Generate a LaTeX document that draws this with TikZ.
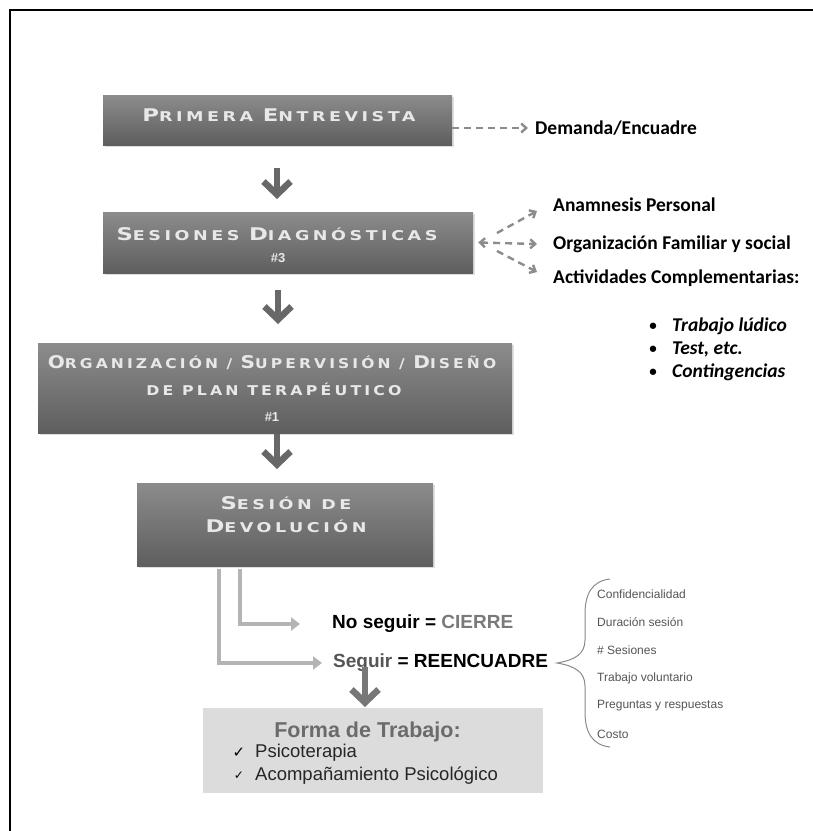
\documentclass[tikz,border=0pt]{standalone}
\usepackage{fontspec}
\usetikzlibrary{arrows.meta,shadows}
\setmainfont{Liberation Sans}
\newfontfamily\dvfont{DejaVu Sans}
\newfontfamily\copfont{DejaVu Sans Bold}[LetterSpace=20]
\newfontfamily\calfont{Carlito}
\definecolor{boxtop}{HTML}{8C8C8C}
\definecolor{boxbot}{HTML}{5E5E5E}
\definecolor{boxtxt}{HTML}{E8E8E8}
\definecolor{arrgray}{HTML}{686868}
\definecolor{dashgray}{HTML}{8C8C8C}
\definecolor{elbgray}{HTML}{B4B4B4}
\definecolor{cierregray}{HTML}{7A7A7A}
\definecolor{formagray}{HTML}{6B6B6B}
\definecolor{bracegray}{HTML}{8A8A8A}
\definecolor{itemgray}{HTML}{555555}
\newcommand\BigC[1]{{\fontsize{17.5}{17.5}\selectfont #1}}
\newcommand\copt{\copfont\fontsize{13.5}{13.5}\selectfont\color{boxtxt}}
\newcommand\widetxt[2][1.3]{\scalebox{#1}[1]{#2}}
\begin{document}
\begin{tikzpicture}[x=1pt,y=-1pt,
  stepbox/.style={draw=none,rectangle,top color=boxtop,bottom color=boxbot,
    drop shadow={opacity=0.25,shadow xshift=2pt,shadow yshift=-2pt}},
  boxtext/.style={inner sep=0pt,font=\copt},
  numtext/.style={inner sep=0pt,font=\bfseries\fontsize{13}{13}\selectfont,text=boxtxt},
  bigarr/.style={draw=arrgray,line width=6.5pt,-{Straight Barb[length=13pt,width=27pt]}},
  dasharr/.style={draw=dashgray,line width=2.4pt,dash pattern=on 7pt off 5pt,
    -{Straight Barb[length=5pt,width=9pt]}},
  elbarr/.style={draw=elbgray,line width=4.5pt,-{Triangle[length=9pt,width=13pt]}},
  caltext/.style={inner sep=0pt,anchor=west,font=\calfont\bfseries\fontsize{19.5}{19.5}\selectfont},
  calitem/.style={inner sep=0pt,anchor=west,font=\calfont\bfseries\itshape\fontsize{19.5}{19.5}\selectfont},
  ariatext/.style={inner sep=0pt,anchor=west,font=\bfseries\fontsize{19}{19}\selectfont},
  itemtext/.style={inner sep=0pt,anchor=west,text=itemgray,font=\fontsize{12}{12}\selectfont},
]
\useasboundingbox (0,0) rectangle (813,831);
\fill[white] (0,0) rectangle (813,831);
% frame
\draw[black,line width=2pt] (10,831) -- (10,10) -- (813,10);

% boxes
\node[stepbox,minimum width=349pt,minimum height=50pt] (prim) at (277.5,120) {};
\node[boxtext] (primt) at (279,115) {\widetxt{\BigC{P}RIMERA \BigC{E}NTREVISTA}};

\node[stepbox,minimum width=370pt,minimum height=61pt] (ses) at (288,242.5) {};
\node[boxtext] (sest) at (277,234) {\widetxt{\BigC{S}ESIONES \BigC{D}IAGNÓSTICAS}};
\node[numtext] (sesn) at (278,258) {\#3};

\node[stepbox,minimum width=474pt,minimum height=90pt] (org) at (275,388) {};
\node[boxtext] (orgt1) at (272,363) {\widetxt[1.15]{\BigC{O}RGANIZACIÓN / \BigC{S}UPERVISIÓN / \BigC{D}ISEÑO}};
\node[boxtext] (orgt2) at (274,389) {\widetxt[1.17]{DE PLAN TERAPÉUTICO}};
\node[numtext] (orgn) at (272,417) {\#1};

\node[stepbox,minimum width=296pt,minimum height=83pt] (dev) at (285,524.5) {};
\node[boxtext] (devt1) at (286,503) {\widetxt{\BigC{S}ESIÓN DE}};
\node[boxtext] (devt2) at (286,526) {\widetxt{\BigC{D}EVOLUCIÓN}};

% big arrows
\coordinate (a1s) at (277,168); \coordinate (a1e) at (277,199);
\coordinate (a2s) at (278,290); \coordinate (a2e) at (278,324);
\coordinate (a3s) at (277,434); \coordinate (a3e) at (277,469);
\draw[bigarr] (a1s) -- (a1e);
\draw[bigarr] (a2s) -- (a2e);
\draw[bigarr] (a3s) -- (a3e);

% demanda
\node[caltext] (dem) at (535,128) {Demanda/Encuadre};
\draw[dasharr] (prim.east |- dem.west) -- ([xshift=-7pt]dem.west);

% sesiones side
\node[caltext] (anam) at (553,205) {Anamnesis Personal};
\node[caltext] (orgf) at (553,244) {Organización Familiar y social};
\node[caltext] (activ) at (553,278) {Actividades Complementarias:};
\coordinate (dl) at ([xshift=5pt]ses.east);
\coordinate (dc1) at (497,233);
\coordinate (dc2) at (497,251);
\draw[dasharr,{Straight Barb[length=5pt,width=9pt]}-{Straight Barb[length=5pt,width=9pt]}] (dl) -- ([xshift=-16pt]orgf.west);
\draw[dasharr] (dc1) -- ([xshift=-16pt,yshift=-6pt]anam.west);
\draw[dasharr] (dc2) -- ([xshift=-16pt,yshift=6pt]activ.west);

\node[calitem] (it1) at (672,326) {Trabajo lúdico};
\node[calitem] (it2) at (672,349) {Test, etc.};
\node[calitem] (it3) at (672,372) {Contingencias};
\foreach \n in {it1,it2,it3}
  \node[inner sep=0pt,font=\calfont\bfseries\fontsize{15}{15}\selectfont] at ([xshift=-19pt,yshift=-1pt]\n.west) {•};

% cierre / reencuadre
\node[ariatext] (cierre) at (332,624) {No seguir = \textcolor{cierregray}{CIERRE}};
\node[ariatext] (reenc) at (333,663) {\textcolor{itemgray}{Seguir} = REENCUADRE};
\coordinate (e1) at (240,569);
\coordinate (e2) at (219,569);
\draw[elbarr] (e1) |- ([xshift=-32pt]cierre.west);
\draw[elbarr] (e2) |- ([xshift=-11pt]reenc.west);

% forma de trabajo box
\node[draw=none,rectangle,fill={rgb,255:red,220;green,220;blue,220},minimum width=340pt,minimum height=85pt] (forma) at (373,750.5) {};
\node[inner sep=0pt,text=formagray,font=\bfseries\fontsize{21.5}{21.5}\selectfont] (format) at (367.5,732) {Forma de Trabajo:};
\node[itemtext,text=black!85,font=\fontsize{18.5}{18.5}\selectfont] (ps) at (255,753) {Psicoterapia};
\node[itemtext,text=black!85,font=\fontsize{18.5}{18.5}\selectfont] (ac) at (255,776) {Acompañamiento Psicológico};
\node[inner sep=0pt,font=\dvfont\fontsize{15}{15}\selectfont] at ([xshift=-16pt]ps.west) {✓};
\node[inner sep=0pt,font=\dvfont\fontsize{12}{12}\selectfont] at ([xshift=-16pt]ac.west) {✓};

\coordinate (a4s) at (365,667); \coordinate (a4e) at (365,707);
\draw[bigarr,draw=arrgray!90] (a4s) -- (a4e);

% brace
\draw[bracegray,line width=1pt] (610,579) .. controls (592,581) and (585,594) .. (585,614) -- (585,640)
  .. controls (585,654) and (575,660) .. (557,663) .. controls (575,666) and (585,672) .. (585,686)
  -- (585,712) .. controls (585,732) and (592,745) .. (610,747);
\node[itemtext] (b1) at (597,594) {Confidencialidad};
\node[itemtext] (b2) at (597,622) {Duración sesión};
\node[itemtext] (b3) at (597,650) {\# Sesiones};
\node[itemtext] (b4) at (597,678) {Trabajo voluntario};
\node[itemtext] (b5) at (597,706) {Preguntas y respuestas};
\node[itemtext] (b6) at (597,734) {Costo};
\end{tikzpicture}
\end{document}
